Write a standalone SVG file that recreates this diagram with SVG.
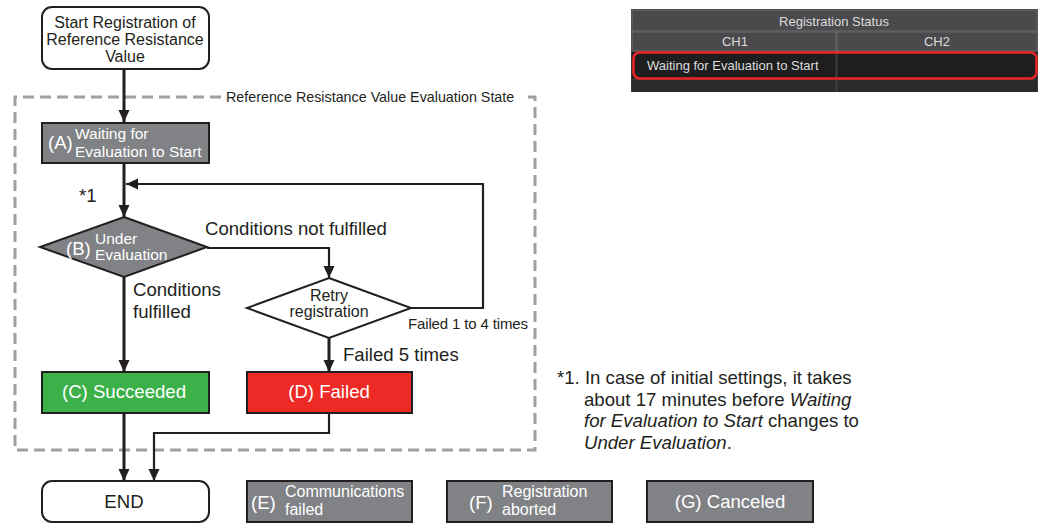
<svg xmlns="http://www.w3.org/2000/svg" width="1040" height="524" viewBox="0 0 1040 524">
<style>
text{font-family:"Liberation Sans",Arial,sans-serif;fill:#231f20}
.t18{font-size:18.6px}
.t16{font-size:16px}
.t155{font-size:15.5px}
.t15{font-size:15px}
.t14{font-size:14.3px}
.w{fill:#fff}
.c{text-anchor:middle}
.box{stroke:#231f20;stroke-width:2}
.gray{fill:#808285}
.term{fill:#fff;stroke:#231f20;stroke-width:2}
.con{fill:none;stroke:#231f20;stroke-width:3}
.thin{fill:none;stroke:#231f20;stroke-width:2.2}
.frame{fill:none;stroke:#a0a0a0;stroke-width:3;stroke-dasharray:11 6}
.tbl{font-size:13px;fill:#dcdcdc}
</style>
<defs>
<marker id="arr" markerUnits="userSpaceOnUse" markerWidth="12" markerHeight="12" viewBox="0 0 12 12" refX="12" refY="6" orient="auto">
<path d="M0,0.5 L12,6 L0,11.5 Z" fill="#231f20"/>
</marker>
</defs>

<g id="frame">
<path class="frame" d="M221,97 H15 V450 H535 V97 H525"/>
<text class="t14" x="226" y="102">Reference Resistance Value Evaluation State</text>
</g>

<g id="connectors">
<path class="con" d="M124,69 V122" marker-end="url(#arr)"/>
<path class="con" d="M124,163 V217" marker-end="url(#arr)"/>
<path class="con" d="M124,277 V372" marker-end="url(#arr)"/>
<path class="thin" d="M207,248 H329 V278" marker-end="url(#arr)"/>
<path class="thin" d="M411,308 H483 V184 H126" marker-end="url(#arr)"/>
<path class="con" d="M329,338 V372" marker-end="url(#arr)"/>
<path class="con" d="M124,413 V481" marker-end="url(#arr)"/>
<path class="thin" d="M329,414 V433 H154 V481" marker-end="url(#arr)"/>
</g>

<g id="labels">
<text class="t18" x="79" y="202">*1</text>
<text class="t18" x="205" y="235">Conditions not fulfilled</text>
<text class="t18" x="133" y="296">Conditions</text>
<text class="t18" x="133" y="318">fulfilled</text>
<text class="t15" x="408" y="329" textLength="120">Failed 1 to 4 times</text>
<text class="t18" x="343" y="361">Failed 5 times</text>
</g>

<g id="start">
<rect class="term" x="42" y="7" width="167" height="62" rx="10"/>
<text class="t16 c" x="125" y="28">Start Registration of</text>
<text class="t16 c" x="125" y="45">Reference Resistance</text>
<text class="t16 c" x="125" y="62">Value</text>
</g>

<g id="nodeA">
<rect class="box gray" x="42" y="123" width="167" height="40"/>
<text class="t18 w" x="48" y="149">(A)</text>
<text class="t155 w" x="75" y="139">Waiting for</text>
<text class="t155 w" x="75" y="157">Evaluation to Start</text>
</g>

<g id="nodeB">
<path class="box gray" d="M124,217 L207,247 L124,277 L40,247 Z"/>
<text class="t18 w" x="66" y="255">(B)</text>
<text class="t155 w" x="95" y="244">Under</text>
<text class="t155 w" x="95" y="260">Evaluation</text>
</g>

<g id="retry">
<path class="box" fill="#fff" d="M329,278 L411,308 L329,338 L247,308 Z"/>
<text class="t16 c" x="329" y="301">Retry</text>
<text class="t16 c" x="329" y="317">registration</text>
</g>

<g id="nodeC">
<rect class="box" fill="#3cb14a" x="42" y="372" width="167" height="41"/>
<text class="t18 w c" x="124" y="398">(C) Succeeded</text>
</g>

<g id="nodeD">
<rect class="box" fill="#ee2a27" x="247" y="372" width="165" height="41"/>
<text class="t18 w c" x="329" y="398">(D) Failed</text>
</g>

<g id="end">
<rect class="term" x="42" y="481" width="167" height="41" rx="10"/>
<text class="t18 c" x="124" y="508">END</text>
</g>

<g id="nodeE">
<rect class="box gray" x="247" y="481" width="165" height="41"/>
<text class="t18 w" x="251" y="509">(E)</text>
<text class="t16 w" x="285" y="497">Communications</text>
<text class="t16 w" x="285" y="515">failed</text>
</g>

<g id="nodeF">
<rect class="box gray" x="447" y="481" width="165" height="41"/>
<text class="t18 w" x="469" y="509">(F)</text>
<text class="t16 w" x="502" y="497">Registration</text>
<text class="t16 w" x="502" y="515">aborted</text>
</g>

<g id="nodeG">
<rect class="box gray" x="647" y="481" width="166" height="41"/>
<text class="t18 w c" x="730" y="508">(G) Canceled</text>
</g>

<g id="note">
<text class="t18" x="557" y="384">*1. In case of initial settings, it takes</text>
<text class="t18" x="584" y="406">about 17 minutes before <tspan font-style="italic">Waiting</tspan></text>
<text class="t18" x="584" y="427"><tspan font-style="italic">for Evaluation to Start</tspan> changes to</text>
<text class="t18" x="584" y="449"><tspan font-style="italic">Under Evaluation</tspan>.</text>
</g>

<g id="statusTable">
<rect x="631" y="9" width="407" height="83" fill="#3a3a3c"/>
<rect x="632" y="10" width="405" height="21" fill="#4a4a4d" stroke="#6a6a6c" stroke-width="1"/>
<rect x="632" y="32" width="204" height="19" fill="#4a4a4d" stroke="#6a6a6c" stroke-width="1"/>
<rect x="837" y="32" width="200" height="19" fill="#4a4a4d" stroke="#6a6a6c" stroke-width="1"/>
<rect x="632" y="52" width="405" height="27" fill="#1e1e1f"/>
<rect x="632" y="80" width="405" height="12" fill="#2a2a2c"/>
<line x1="836.5" y1="52" x2="836.5" y2="92" stroke="#3e3e40" stroke-width="2"/>
<rect x="633.5" y="52.5" width="403" height="26" rx="6" fill="none" stroke="#e8262a" stroke-width="2.5"/>
<text class="tbl c" x="834" y="26">Registration Status</text>
<text class="tbl c" x="735" y="46">CH1</text>
<text class="tbl c" x="937" y="46">CH2</text>
<text class="tbl" x="647" y="70">Waiting for Evaluation to Start</text>
</g>
</svg>
